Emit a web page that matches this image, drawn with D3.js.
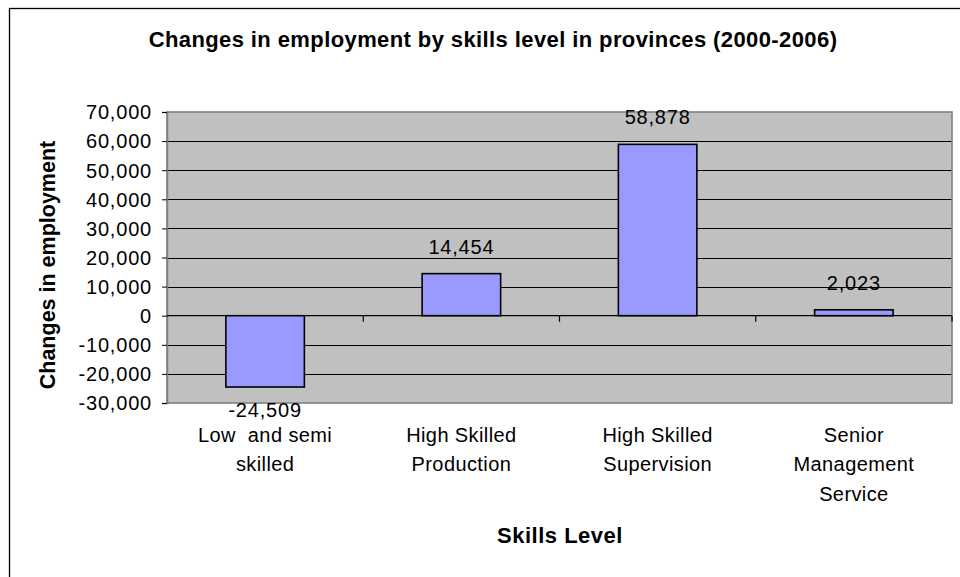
<!DOCTYPE html>
<html>
<head>
<meta charset="utf-8">
<script src="https://cdn.jsdelivr.net/npm/d3@7"></script>
<style>
  html, body { margin: 0; padding: 0; background: #fff; }
  svg { display: block; font-family: "Liberation Sans", Arial, sans-serif; }
</style>
</head>
<body>
<svg id="chart" width="960" height="577"></svg>
<script>
// Employment change by skills level, 2000-2006
const categories = [
  ["Low  and semi", "skilled"],
  ["High Skilled", "Production"],
  ["High Skilled", "Supervision"],
  ["Senior", "Management", "Service"]
];
const values = [-24509, 14454, 58878, 2023];
const yTicks = [-30000, -20000, -10000, 0, 10000, 20000, 30000, 40000, 50000, 60000, 70000];

const titleText = "Changes in employment by skills level in provinces (2000-2006)";
const yTitle = "Changes in employment";
const xTitle = "Skills Level";

const svg = d3.select("#chart");
const plot = { left: 167, right: 952, top: 112, bottom: 403 };
// thousands separator with a plain hyphen for negatives
const fmt = d3.formatLocale({ decimal: ".", thousands: ",", grouping: [3], currency: ["", ""], minus: "-" }).format(",");

// outer chart frame (extends past the window on right and bottom)
svg.append("rect")
  .attr("x", 9.5).attr("y", 8.5)
  .attr("width", 1000).attr("height", 1000)
  .attr("fill", "#fff").attr("stroke", "#000").attr("stroke-width", 1.3);

const idx = categories.map((d, i) => i);
const x = d3.scaleBand().domain(idx).range([plot.left, plot.right]).padding(0);
const y = d3.scaleLinear().domain([-30000, 70000]).range([plot.bottom, plot.top]);

// plot background
svg.append("rect")
  .attr("x", plot.left).attr("y", plot.top)
  .attr("width", plot.right - plot.left).attr("height", plot.bottom - plot.top)
  .attr("fill", "#c0c0c0");

// horizontal gridlines
svg.append("g")
  .selectAll("line")
  .data(yTicks.filter(t => t !== -30000 && t !== 70000 && t !== 0))
  .join("line")
  .attr("x1", plot.left).attr("x2", plot.right)
  .attr("y1", d => Math.round(y(d)) + 0.5).attr("y2", d => Math.round(y(d)) + 0.5)
  .attr("stroke", "#000").attr("stroke-width", 1);

// plot border
svg.append("rect")
  .attr("x", plot.left).attr("y", plot.top)
  .attr("width", plot.right - plot.left).attr("height", plot.bottom - plot.top)
  .attr("fill", "none").attr("stroke", "#808080").attr("stroke-width", 1.6);

// value axis
const yAxis = d3.axisLeft(y).tickValues(yTicks).tickSize(5).tickPadding(10).tickFormat(fmt);
const gy = svg.append("g").attr("transform", `translate(${plot.left},0)`).call(yAxis);
gy.select(".domain").attr("stroke", "#808080").attr("stroke-width", 1.6);
gy.selectAll(".tick line").attr("stroke", "#000");
gy.selectAll(".tick text")
  .attr("fill", "#000").attr("font-size", 20).attr("font-family", "Liberation Sans, Arial, sans-serif")
  .attr("letter-spacing", 0.8).attr("dy", "0.34em");

// category axis along zero, ticks between categories
const boundaries = idx.slice(1).map(i => x(i));
svg.append("line")
  .attr("x1", plot.left).attr("x2", plot.right)
  .attr("y1", y(0)).attr("y2", y(0))
  .attr("stroke", "#000").attr("stroke-width", 1.2);
svg.append("g").selectAll("line")
  .data(boundaries.concat([plot.right]))
  .join("line")
  .attr("x1", d => d).attr("x2", d => d)
  .attr("y1", y(0)).attr("y2", y(0) + 6)
  .attr("stroke", "#000").attr("stroke-width", 1.2);

// bars
const bw = x.bandwidth() * 0.4;
svg.append("g").selectAll("rect")
  .data(values)
  .join("rect")
  .attr("x", (d, i) => x(i) + (x.bandwidth() - bw) / 2)
  .attr("width", bw)
  .attr("y", d => y(Math.max(0, d)))
  .attr("height", d => Math.abs(y(d) - y(0)))
  .attr("fill", "#9999ff").attr("stroke", "#000").attr("stroke-width", 1.6);

// value labels
svg.append("g").selectAll("text")
  .data(values)
  .join("text")
  .attr("x", (d, i) => x(i) + x.bandwidth() / 2)
  .attr("y", d => d >= 0 ? y(d) - 20 : y(d) + 30)
  .attr("text-anchor", "middle")
  .attr("font-size", 20).attr("letter-spacing", 0.8)
  .text(d => fmt(d));

// category labels
const cat = svg.append("g").selectAll("text")
  .data(categories)
  .join("text")
  .attr("x", (d, i) => x(i) + x.bandwidth() / 2)
  .attr("y", 441.5)
  .attr("text-anchor", "middle")
  .attr("font-size", 20).attr("letter-spacing", 0.4)
  .style("white-space", "pre");
cat.selectAll("tspan")
  .data(d => d)
  .join("tspan")
  .attr("x", function() { return d3.select(this.parentNode).attr("x"); })
  .attr("dy", (d, i) => i === 0 ? 0 : 29.5)
  .text(d => d);

// titles
svg.append("text")
  .attr("x", 493).attr("y", 47)
  .attr("text-anchor", "middle")
  .attr("font-size", 22).attr("font-weight", "bold").attr("letter-spacing", 0.4)
  .text(titleText);

svg.append("text")
  .attr("transform", "translate(55,265) rotate(-90)")
  .attr("text-anchor", "middle")
  .attr("font-size", 21.5).attr("font-weight", "bold")
  .text(yTitle);

svg.append("text")
  .attr("x", 560).attr("y", 543)
  .attr("text-anchor", "middle")
  .attr("font-size", 22).attr("font-weight", "bold").attr("letter-spacing", 0.5)
  .text(xTitle);
</script>
</body>
</html>
